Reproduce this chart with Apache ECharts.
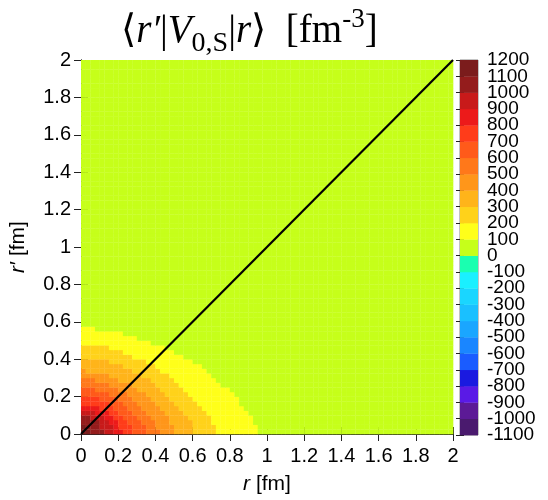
<!DOCTYPE html>
<html>
<head>
<meta charset="utf-8">
<script src="https://cdn.jsdelivr.net/npm/echarts@6/dist/echarts.min.js"></script>
<style>
  html, body { margin: 0; padding: 0; background: #fff; }
  #chart { width: 548px; height: 500px; }
</style>
</head>
<body>
<div id="chart"></div>
<script>
    // 格子：0.025 fm 一格，共 80 x 80
    const cellSize = 0.025
    const cellCount = 80

    // 色标的分界（下到上）和每一段的颜色
    const bandEdges = [-1100, -1000, -900, -800, -700, -600, -500, -400, -300, -200, -100,
        0, 100, 200, 300, 400, 500, 600, 700, 800, 900, 1000, 1100, 1200]
    const bandColors = ['#4a1a6e', '#5c1a96', '#5a1ae6', '#1a1ae0', '#1a5cff', '#1a86ff',
        '#1aa6ff', '#1ac0ff', '#1ad6ff', '#1af0ff', '#1affb0',
        '#c6ff1a', '#ffff1a', '#ffd21a', '#ffb41a', '#ff961a', '#ff781a', '#ff5a1a',
        '#ff3c1a', '#ec1a1a', '#c81a1a', '#941c1c', '#7b1c1c']

    // 等值线：每一行（r' 从 0 往上）从 r = 0 起有多少格不低于该值
    const levels = [100, 200, 300, 400, 500, 600, 700, 800, 900, 1000, 1100]
    const widths100 = [38, 38, 37, 37, 36, 35, 34, 34, 33, 32, 30, 29, 28, 27, 26, 24, 22, 20, 18, 15, 12, 9, 3]
    const widths200 = [29, 29, 28, 28, 27, 26, 25, 24, 23, 22, 21, 20, 19, 17, 16, 14, 11, 9, 6]
    const widths300 = [24, 24, 24, 23, 22, 21, 20, 19, 18, 17, 16, 15, 13, 11, 9, 6]
    const widths400 = [20, 20, 19, 19, 18, 17, 16, 15, 14, 12, 11, 8, 6, 1]
    const widths500 = [17, 16, 16, 15, 14, 13, 12, 11, 10, 8, 6, 3]
    const widths600 = [14, 14, 13, 12, 11, 10, 9, 8, 6, 3]
    const widths700 = [11, 11, 10, 9, 8, 7, 6, 4]
    const widths800 = [9, 8, 8, 7, 6, 4]
    const widths900 = [7, 7, 6, 5, 3]
    const widths1000 = [5, 4, 4, 2]
    const widths1100 = [2, 1]

    // 对角线 r' = r
    const diagonal = [[0, 0], [2, 2]]

    const levelWidths = [widths100, widths200, widths300, widths400, widths500, widths600,
        widths700, widths800, widths900, widths1000, widths1100]

    const cells = []
    for (let j = 0; j < cellCount; j++) {
        for (let i = 0; i < cellCount; i++) {
            let band = 0
            levelWidths.forEach(w => { if ((w[j] || 0) > i) band++ })
            // 放在该色段中间
            cells.push([i * cellSize, j * cellSize, band * 100 + 50])
        }
    }

    const keyBands = bandEdges.slice(0, -1).map((lo, k) => [lo, bandEdges[k + 1]])
    const pieces = keyBands.map((b, k) => ({min: b[0], max: b[1], color: bandColors[k]}))

    const sans = 'Liberation Sans, Arial, sans-serif'
    const serif = 'Liberation Serif, DejaVu Serif, serif'

    const frameAxis = {
        type: 'value', min: 0, max: 2, interval: 0.2,
        axisLine: {show: true, lineStyle: {color: '#222', width: 1}},
        axisTick: {show: true, inside: true, length: 7, lineStyle: {color: '#222'}},
        splitLine: {show: false}
    }
    const nameStyle = {
        fontFamily: sans, fontSize: 21, color: '#000',
        rich: {i: {fontFamily: sans, fontSize: 21, fontStyle: 'italic'}}
    }

    // 色标刻度字挤在一起，分两根轴画（单数百 / 双数百），免得 echarts 把头尾的字藏掉
    const keyAxis = (position, odd, showTicks) => ({
        gridIndex: 1, type: 'value', position: position, min: -1100, max: 1200, interval: 100,
        axisLine: {show: false},
        axisTick: {show: showTicks, inside: true, length: 4, lineStyle: {color: '#222'}},
        axisLabel: {
            show: odd !== null,
            fontFamily: sans, fontSize: 19, color: '#000', margin: 9, lineHeight: 12,
            showMinLabel: true, showMaxLabel: true,
            formatter: v => (Math.abs(v / 100) % 2 === 1) === odd ? String(v) : ''
        },
        splitLine: {show: false}
    })

    const chart = echarts.init(document.getElementById('chart'))
    chart.setOption({
        animation: false,
        title: {
            text: '⟨{i|r′}|{i|V}{sub|0,S}|{i|r}⟩  [fm{sup|-3}]',
            left: 121, top: 6, padding: 0,
            textStyle: {
                fontFamily: serif, fontSize: 39, fontWeight: 'normal', color: '#000', lineHeight: 52,
                rich: {
                    i: {fontFamily: serif, fontSize: 39, fontStyle: 'italic', lineHeight: 52},
                    sub: {fontFamily: serif, fontSize: 28, lineHeight: 18, verticalAlign: 'bottom'},
                    sup: {fontFamily: serif, fontSize: 27, lineHeight: 10, verticalAlign: 'top'}
                }
            }
        },
        grid: [
            {left: 78, top: 60, width: 375, height: 374},
            {left: 460, top: 60, width: 18, height: 375, show: true, borderColor: '#888', borderWidth: 1}
        ],
        xAxis: [
            Object.assign({}, frameAxis, {
                gridIndex: 0, position: 'bottom',
                axisLabel: {fontFamily: sans, fontSize: 20, color: '#000', margin: 12},
                name: '{i|r} [fm]', nameLocation: 'middle', nameGap: 40,
                nameTextStyle: nameStyle
            }),
            Object.assign({}, frameAxis, {gridIndex: 0, position: 'top', axisLabel: {show: false}}),
            {gridIndex: 1, type: 'value', min: 0, max: 1, show: false}
        ],
        yAxis: [
            Object.assign({}, frameAxis, {
                gridIndex: 0, position: 'left',
                axisLabel: {fontFamily: sans, fontSize: 20, color: '#000', margin: 10},
                name: '{i|r′} [fm]', nameLocation: 'middle', nameGap: 52,
                nameTextStyle: nameStyle
            }),
            Object.assign({}, frameAxis, {gridIndex: 0, position: 'right', axisLabel: {show: false}}),
            keyAxis('right', false, true),
            keyAxis('right', true, false),
            keyAxis('left', null, true)
        ],
        visualMap: {
            type: 'piecewise', show: false, seriesIndex: 0, dimension: 2, pieces: pieces
        },
        series: [
            {
                type: 'custom',
                xAxisIndex: 0, yAxisIndex: 0,
                data: cells,
                clip: true,
                renderItem: (params, api) => {
                    const p0 = api.coord([api.value(0), api.value(1)])
                    const p1 = api.coord([api.value(0) + cellSize, api.value(1) + cellSize])
                    return {
                        type: 'rect',
                        shape: {x: p0[0], y: p1[1], width: p1[0] - p0[0] + 0.3, height: p0[1] - p1[1] + 0.3},
                        style: {fill: api.visual('color')}
                    }
                }
            },
            {
                type: 'line',
                xAxisIndex: 0, yAxisIndex: 0,
                data: diagonal,
                symbol: 'none',
                z: 5,
                lineStyle: {color: '#000', width: 2.2}
            },
            {
                type: 'custom',
                xAxisIndex: 2, yAxisIndex: 2,
                data: keyBands,
                renderItem: (params, api) => {
                    const p0 = api.coord([0, api.value(0)])
                    const p1 = api.coord([1, api.value(1)])
                    return {
                        type: 'rect',
                        shape: {x: p0[0], y: p1[1], width: p1[0] - p0[0], height: p0[1] - p1[1] + 0.3},
                        style: {fill: bandColors[params.dataIndex]}
                    }
                }
            }
        ]
    })
</script>
</body>
</html>
